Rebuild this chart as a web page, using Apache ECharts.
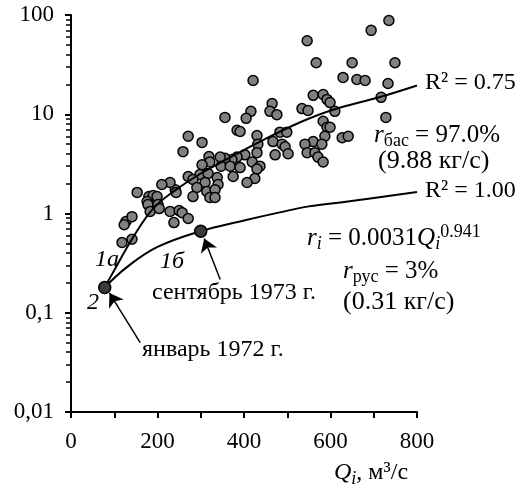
<!DOCTYPE html>
<html><head><meta charset="utf-8">
<script src="https://cdn.jsdelivr.net/npm/echarts@6/dist/echarts.min.js"></script>
<style>html,body{margin:0;padding:0;background:#fff}#c{width:530px;height:487px}</style>
</head><body><div id="c"></div>
<script>
// Observed points: water discharge Q (m3/s) and suspended load r (kg/s)
const obsQ = [735,694,546,567,650,749,629,661,680,733,717,560,583,592,599,534,548,610,728,583,
  592,599,587,627,641,560,541,580,546,564,571,583,421,465,460,476,416,405,356,384,
  391,271,303,259,430,467,483,499,488,495,502,472,432,430,402,384,372,356,345,319,
  321,303,347,368,391,419,437,430,425,407,375,298,317,271,282,338,310,340,291,241,
  229,210,314,333,282,321,333,153,180,190,176,199,178,201,183,204,243,229,250,257,
  271,238,127,141,123,118,141];
const obsR = [88,70,55,33,33,33,23.5,22.4,21.9,20.4,14.8,15.5,15.8,14.1,13.1,11.4,10.9,10.7,9.3,8.5,
  7.4,7.4,6.0,5.8,6.0,5.3,5.0,5.0,4.1,4.1,3.7,3.3,21.9,12.8,10.7,9.9,10.7,9.1,9.3,6.9,
  6.7,6.0,5.2,4.2,6.1,5.3,6.6,6.6,5.0,4.7,4.0,3.9,5.0,4.1,3.9,3.7,3.5,3.6,3.7,3.75,
  3.3,3.1,3.0,3.0,2.9,3.3,3.0,2.8,2.25,2.05,2.36,2.47,2.53,2.36,2.2,2.3,2.05,1.96,1.83,1.74,
  2.05,1.96,1.67,1.74,1.48,1.45,1.45,1.63,1.48,1.52,1.32,1.48,1.23,1.23,1.05,1.12,1.63,1.05,1.07,1.02,
  0.89,0.81,0.83,0.93,0.77,0.51,0.55];
// Curve 1a (basin, R2 = 0.75)
const fitAQ = [78, 95, 143, 190, 240, 298, 321, 437, 530, 606, 714, 800];
const fitAR = [0.18, 0.245, 0.57, 1.12, 1.7, 2.5, 2.85, 5.3, 8.3, 11.1, 14.9, 19.5];
// Curve 1b (channel, R2 = 1.00)
const fitBQ = [78, 130, 200, 300, 400, 480, 550, 640, 800];
const fitBR = [0.18, 0.29, 0.46, 0.664, 0.85, 1.02, 1.18, 1.32, 1.65];
// Highlighted months: January 1972, September 1973
const keyQ = [78, 300];
const keyR = [0.18, 0.664];
// Arrow annotations (tail -> head) in data coordinates
const arrowSept = [[345, 0.216], [308, 0.56]];
const arrowJan = [[160, 0.05], [89, 0.158]];
// Axis ticks
const xTicks = [0, 100, 200, 300, 400, 500, 600, 700, 800];
const xLabels = [0, 200, 400, 600, 800];
const yLabelMap = {'-2': '0,01', '-1': '0,1', '0': '1', '1': '10', '2': '100'};
const minorMultipliers = [2, 3, 4, 5, 6, 7, 8, 9];
const decadeExponents = [-2, -1, 0, 1];

// minor tick positions expressed as log10 values on a hidden linear axis
const minorTickLogs = [];
decadeExponents.forEach(e => minorMultipliers.forEach(m => minorTickLogs.push(e + Math.log10(m))));

const FONT = 'Liberation Serif';
const chart = echarts.init(document.getElementById('c'), null, {renderer: 'canvas'});

function mk(size, italic, lh, va) {
  return {fontFamily: FONT, fontStyle: italic ? 'italic' : 'normal', fontSize: size, lineHeight: lh, verticalAlign: va, fill: '#000', color: '#000'};
}
const rich = {
  it: mk(24, true, 30, 'middle'),
  n: mk(24, false, 30, 'middle'),
  it25: mk(25, true, 30, 'middle'),
  n25: mk(25, false, 30, 'middle'),
  n26: mk(26, false, 30, 'middle'),
  sub: mk(18, false, 18, 'bottom'),
  subi: mk(18, true, 18, 'bottom'),
  sup: mk(18, false, 18, 'top')
};
function txt(x, y, text) {
  return {type: 'text', x: x, y: y, silent: true, z: 100,
    style: {text: text, rich: rich, fontFamily: FONT, fontSize: 24, fill: '#000', verticalAlign: 'middle', align: 'left'}};
}

const option = {
  animation: false,
  backgroundColor: '#fff',
  grid: {left: 71, right: 113, top: 15, bottom: 75},
  xAxis: {
    type: 'value', min: 0, max: 800, interval: 100,
    axisLine: {show: true, onZero: false, lineStyle: {color: '#000', width: 2}},
    axisTick: {show: true, length: 6, customValues: xTicks, lineStyle: {color: '#000', width: 2}},
    axisLabel: {customValues: xLabels, color: '#000', fontFamily: FONT, fontSize: 23, margin: 18},
    splitLine: {show: false}
  },
  yAxis: [{
    type: 'log', logBase: 10, min: 0.01, max: 100,
    axisLine: {show: true, lineStyle: {color: '#000', width: 2}},
    axisTick: {show: true, length: 6, lineStyle: {color: '#000', width: 2}},
    axisLabel: {color: '#000', fontFamily: FONT, fontSize: 23, margin: 17,
      formatter: v => yLabelMap[String(Math.round(Math.log10(v)))] || ''},
    splitLine: {show: false}, minorTick: {show: false}
  }, {
    type: 'value', min: -2, max: 2, position: 'left',
    axisLine: {show: false},
    axisTick: {show: true, length: 5, customValues: minorTickLogs, lineStyle: {color: '#000', width: 1.5}},
    axisLabel: {show: false}, splitLine: {show: false}
  }],
  series: [{
    type: 'scatter', z: 2, silent: true,
    data: obsQ.map((q, i) => [q, obsR[i]]),
    symbol: 'circle', symbolSize: 10,
    itemStyle: {color: '#808080', borderColor: '#000', borderWidth: 1.5, opacity: 1}
  }, {
    type: 'line', z: 3, silent: true, smooth: 0.4, showSymbol: false,
    data: fitAQ.map((q, i) => [q, fitAR[i]]),
    lineStyle: {color: '#000', width: 2}
  }, {
    type: 'line', z: 3, silent: true, smooth: 0.4, showSymbol: false,
    data: fitBQ.map((q, i) => [q, fitBR[i]]),
    lineStyle: {color: '#000', width: 2},
    markLine: {
      silent: true, animation: false,
      symbol: ['none', 'arrow'], symbolSize: 13,
      label: {show: false},
      lineStyle: {color: '#000', width: 1.5, type: 'solid'},
      itemStyle: {color: '#000'},
      emphasis: {disabled: true},
      data: [
        [{coord: arrowSept[0]}, {coord: arrowSept[1]}],
        [{coord: arrowJan[0]}, {coord: arrowJan[1]}]
      ]
    }
  }, {
    type: 'scatter', z: 4, silent: true,
    data: keyQ.map((q, i) => [q, keyR[i]]),
    symbol: 'circle', symbolSize: 12,
    itemStyle: {color: '#3a3a3a', borderColor: '#000', borderWidth: 1.5, opacity: 1}
  }],
  graphic: [
    txt(425, 83, '{n|R² = 0.75}'),
    txt(425, 191, '{n|R² = 1.00}'),
    txt(374, 135, '{it25|r}{sub|бас}{n25| = 97.0%}'),
    txt(378, 161, '{n26|(9.88 кг/с)}'),
    txt(307, 238, '{it25|r}{subi|i}{n25| = 0.0031}{it25|Q}{subi|i}{sup|0.941}'),
    txt(343, 271, '{it25|r}{sub|рус}{n25| = 3%}'),
    txt(343, 302, '{n26|(0.31 кг/с)}'),
    txt(152, 293, '{n|сентябрь 1973 г.}'),
    txt(142, 350, '{n|январь 1972 г.}'),
    txt(95, 260, '{it|1а}'),
    txt(160, 262, '{it|1б}'),
    txt(87, 303, '{it|2}'),
    txt(334, 473, '{it|Q}{subi|i}{n|, м³/с}')
  ]
};
chart.setOption(option);
</script>
</body></html>
